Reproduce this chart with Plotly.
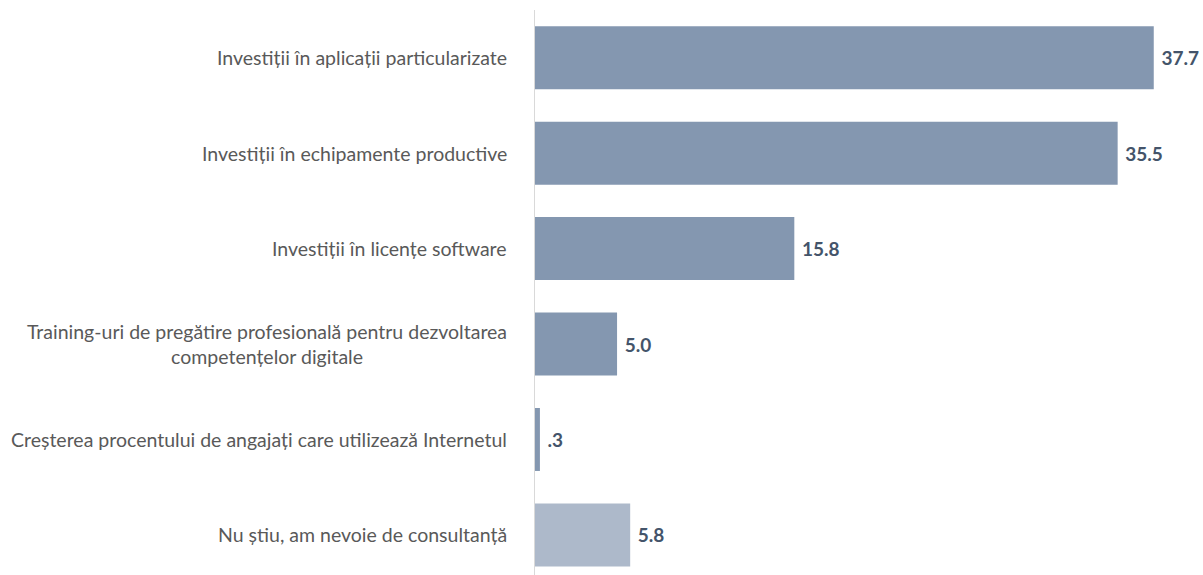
import plotly.graph_objects as go

categories = [
    "Investiții în aplicații particularizate",
    "Investiții în echipamente productive",
    "Investiții în licențe software",
    "Training-uri de pregătire profesională pentru dezvoltarea<br>competențelor digitale",
    "Creșterea procentului de angajați care utilizează Internetul",
    "Nu știu, am nevoie de consultanță",
]
values = [37.7, 35.5, 15.8, 5.0, 0.3, 5.8]
bar_colors = ["#8497B0", "#8497B0", "#8497B0", "#8497B0", "#8497B0", "#ADB9CA"]

# Excel-style labels: "0.3" shown as ".3"
labels = [f"{v:.1f}".lstrip("0") for v in values]

font_family = "Lato, Carlito, sans-serif"

fig = go.Figure()
fig.add_trace(go.Bar(
    x=values,
    y=categories,
    orientation="h",
    marker_color=bar_colors,
    marker_line_width=0,
    text=[" " + t for t in labels],
    textposition="outside",
    cliponaxis=False,
    textfont=dict(family=font_family, size=19, color="#44546A", weight="bold"),
    hoverinfo="skip",
))

# category labels as annotations so the wrapped one stays centred
for cat in categories:
    fig.add_annotation(
        x=0, xref="paper", y=cat, yref="y",
        xanchor="right", xshift=-26,
        text=cat, showarrow=False, align="center",
        font=dict(family=font_family, size=19.5, color="#595959"),
    )

fig.update_layout(
    template="simple_white",
    width=1203,
    height=575,
    margin=dict(l=535, r=0, t=10, b=0),
    bargap=0.34,
    showlegend=False,
    plot_bgcolor="white",
    paper_bgcolor="white",
)
fig.update_xaxes(range=[0, 40.7], visible=False)
fig.update_yaxes(
    categoryorder="array", categoryarray=categories,
    range=[5.42, -0.5],
    showticklabels=False, ticks="",
    showline=True, linecolor="#D9D9D9", linewidth=1,
)

# drop the default page margin so the figure fills the window exactly
fig.write_html(
    "out.html",
    config={"displayModeBar": False},
    post_script="document.body.style.margin='0';document.body.style.overflow='hidden';",
)
